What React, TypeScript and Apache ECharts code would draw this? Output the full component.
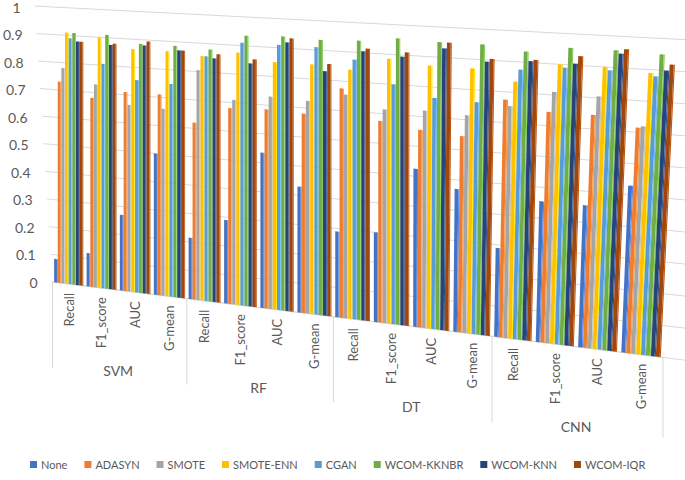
import React, { useEffect, useRef } from "react";
import * as echarts from "echarts";

const classifiers = ["SVM", "RF", "DT", "CNN"];
const metrics = ["Recall", "F1_score", "AUC", "G-mean"];
const categories = classifiers.flatMap((c) => metrics.map((m) => `${c} ${m}`));
const yTicks = [0, 0.1, 0.2, 0.3, 0.4, 0.5, 0.6, 0.7, 0.8, 0.9, 1];
const yTickLabels = ["0", "0.1", "0.2", "0.3", "0.4", "0.5", "0.6", "0.7", "0.8", "0.9", "1"];

const methods = ["None", "ADASYN", "SMOTE", "SMOTE-ENN", "CGAN", "WCOM-KKNBR", "WCOM-KNN", "WCOM-IQR"];

const noneVals = [0.085, 0.12, 0.27, 0.5, 0.215, 0.29, 0.535, 0.43, 0.29, 0.3, 0.525, 0.47, 0.29, 0.455, 0.455, 0.53];
const adasynVals = [0.73, 0.68, 0.71, 0.71, 0.62, 0.68, 0.685, 0.68, 0.775, 0.675, 0.655, 0.645, 0.775, 0.745, 0.745, 0.715];
const smoteVals = [0.78, 0.73, 0.665, 0.66, 0.805, 0.71, 0.73, 0.725, 0.755, 0.715, 0.72, 0.715, 0.755, 0.81, 0.805, 0.72];
const smoteEnnVals = [0.91, 0.9, 0.865, 0.865, 0.855, 0.875, 0.85, 0.85, 0.84, 0.885, 0.87, 0.87, 0.835, 0.9, 0.9, 0.89];
const cganVals = [0.89, 0.805, 0.755, 0.75, 0.855, 0.91, 0.91, 0.91, 0.875, 0.8, 0.765, 0.76, 0.875, 0.89, 0.89, 0.88];
const kknbrVals = [0.91, 0.91, 0.885, 0.885, 0.88, 0.935, 0.94, 0.935, 0.94, 0.955, 0.95, 0.95, 0.935, 0.955, 0.955, 0.95];
const knnVals = [0.88, 0.875, 0.88, 0.87, 0.85, 0.84, 0.92, 0.83, 0.905, 0.895, 0.93, 0.895, 0.905, 0.905, 0.945, 0.9];
const iqrVals = [0.88, 0.88, 0.895, 0.87, 0.865, 0.855, 0.935, 0.855, 0.915, 0.91, 0.95, 0.905, 0.91, 0.93, 0.96, 0.92];

const seriesValues = [noneVals, adasynVals, smoteVals, smoteEnnVals, cganVals, kknbrVals, knnVals, iqrVals];
const colors = ["#4472C4", "#ED7D31", "#A5A5A5", "#FFC000", "#5B9BD5", "#70AD47", "#264478", "#9E480E"];

const FONT = "Lato, 'Liberation Sans', sans-serif";
const TEXT = "#595959";
const GRIDC = "#D9D9D9";

// perspective helpers (all relative to the cartesian grid rectangle)
const geo = (cs: any) => {
  const X = (u: number) => cs.x + cs.width * (0.84 * u + 0.16 * u * u);
  const base = (x: number) => cs.y + cs.height + 0.1236 * (x - cs.x);
  const H = (x: number) => cs.height + 0.072 * (x - cs.x);
  const Y = (x: number, v: number) => base(x) - v * H(x);
  const lean = (x: number) => Math.max(0, x - cs.x - 352) * 0.06;
  return { X, base, H, Y, lean };
};

export default function App() {
  const ref = useRef<HTMLDivElement>(null);
  useEffect(() => {
    if (!ref.current) return;
    const chart = echarts.init(ref.current, null, { renderer: "svg" });

    const barSeries = methods.map((name, s) => ({
      type: "custom",
      name,
      itemStyle: { color: colors[s] },
      data: seriesValues[s].map((v, i) => [i, v]),
      encode: { x: 0, y: 1 },
      z: 3,
      renderItem: (params: any, api: any) => {
        const cs = params.coordSys;
        const g = geo(cs);
        const i = api.value(0);
        const val = api.value(1);
        const c = api.coord([i, val]);
        const c0 = api.coord([i, 0]);
        const slot = api.size([1, 0])[0];
        const v = (c0[1] - c[1]) / cs.height;
        const uC = (c0[0] - cs.x) / cs.width;
        const inner = (slot / cs.width) * 0.9;
        const ua = uC - inner / 2 + (s * inner) / 8;
        const ub = ua + inner / 8;
        const xl = g.X(ua);
        const xr = g.X(ub);
        const xs = xl + (xr - xl) * 0.78;
        const top = (x: number) => {
          const xt = x + g.lean(x) * v;
          return [xt, g.Y(xt, v)];
        };
        const front = [[xl, g.base(xl)], [xs, g.base(xs)], top(xs), top(xl)];
        const side = [[xs, g.base(xs)], [xr, g.base(xr)], top(xr), top(xs)];
        const col = colors[s];
        return {
          type: "group",
          children: [
            { type: "polygon", shape: { points: front }, style: { fill: col } },
            { type: "polygon", shape: { points: side }, style: { fill: echarts.color.lift(col, -0.2) } },
          ],
        };
      },
    }));

    const gridSeries = {
      type: "custom",
      name: "grid",
      silent: true,
      z: 1,
      data: yTicks.map((t) => [0, t]),
      encode: { x: 0, y: 1 },
      renderItem: (params: any, api: any) => {
        const cs = params.coordSys;
        const g = geo(cs);
        const c = api.coord([0, api.value(1)]);
        const v = (cs.y + cs.height - c[1]) / cs.height;
        const x1 = cs.x - 18 * v;
        const x2 = cs.x + cs.width + 30;
        return {
          type: "line",
          shape: { x1, y1: g.Y(x1, v), x2, y2: g.Y(x2, v) },
          style: { stroke: GRIDC, lineWidth: 1 },
        };
      },
    };

    const metricLabelSeries = {
      type: "custom",
      name: "metricLabels",
      silent: true,
      z: 2,
      data: categories.map((_, i) => [i, 0]),
      encode: { x: 0, y: 1 },
      renderItem: (params: any, api: any) => {
        const cs = params.coordSys;
        const g = geo(cs);
        const i = api.value(0);
        const c0 = api.coord([i, 0]);
        const u = (c0[0] - cs.x) / cs.width;
        const x = g.X(u);
        return {
          type: "text",
          x,
          y: g.base(x) + 9,
          rotation: Math.PI / 2,
          style: {
            text: metrics[i % 4],
            fill: TEXT,
            fontSize: 13,
            fontFamily: FONT,
            align: "right",
            verticalAlign: "middle",
          },
        };
      },
    };

    const groupSeries = {
      type: "custom",
      name: "groups",
      silent: true,
      z: 2,
      data: classifiers.map((_, k) => [k * 4, 0]),
      encode: { x: 0, y: 1 },
      renderItem: (params: any, api: any) => {
        const cs = params.coordSys;
        const g = geo(cs);
        const i = api.value(0);
        const k = i / 4;
        const c0 = api.coord([i, 0]);
        const slot = api.size([1, 0])[0];
        const u0 = (c0[0] - slot / 2 - cs.x) / cs.width;
        const u1 = u0 + (4 * slot) / cs.width;
        const xa = g.X(u0);
        const xb = g.X(u1);
        const xm = g.X((u0 + u1) / 2);
        const children: any[] = [
          {
            type: "text",
            x: xm,
            y: g.base(xm) + 80,
            style: {
              text: classifiers[k],
              fill: TEXT,
              fontSize: 14,
              fontFamily: FONT,
              align: "center",
              verticalAlign: "middle",
            },
          },
          {
            type: "line",
            shape: { x1: xa, y1: g.base(xa), x2: xa, y2: g.base(xa) + 86 },
            style: { stroke: GRIDC, lineWidth: 1 },
          },
          {
            type: "line",
            shape: { x1: xa, y1: g.base(xa), x2: xb, y2: g.base(xb) },
            style: { stroke: GRIDC, lineWidth: 1 },
          },
        ];
        if (k === classifiers.length - 1) {
          children.push({
            type: "line",
            shape: { x1: xb, y1: g.base(xb), x2: xb, y2: g.base(xb) + 80 },
            style: { stroke: GRIDC, lineWidth: 1 },
          });
        }
        return { type: "group", children };
      },
    };

    const rich: any = {};
    yTicks.forEach((t, idx) => {
      rich[`t${idx}`] = {
        padding: [0, Math.round(17 * t), 0, 0],
        fontSize: 14,
        fontFamily: FONT,
        color: TEXT,
      };
    });

    chart.setOption({
      animation: false,
      grid: { left: 48, right: 22, top: 5, bottom: 198 },
      xAxis: {
        type: "category",
        data: categories,
        show: false,
      },
      yAxis: {
        type: "value",
        min: 0,
        max: 1,
        interval: 0.1,
        axisLine: { show: false },
        axisTick: { show: false },
        splitLine: { show: false },
        axisLabel: {
          margin: 15,
          formatter: (val: number) => {
            const idx = Math.round(val * 10);
            return `{t${idx}|${yTickLabels[idx]}}`;
          },
          rich,
        },
      },
      legend: {
        data: methods,
        bottom: 10,
        left: 30,
        right: 20,
        icon: "rect",
        itemWidth: 7,
        itemHeight: 7,
        itemGap: 17,
        padding: 0,
        textStyle: { fontFamily: FONT, fontSize: 11, color: TEXT, padding: [0, 0, 0, -1] },
      },
      series: [gridSeries, ...barSeries, metricLabelSeries, groupSeries],
    });

    return () => chart.dispose();
  }, []);

  return (
    <div
      ref={ref}
      style={{ position: "fixed", left: 0, top: 0, width: 685, height: 480, background: "#fff" }}
    />
  );
}
